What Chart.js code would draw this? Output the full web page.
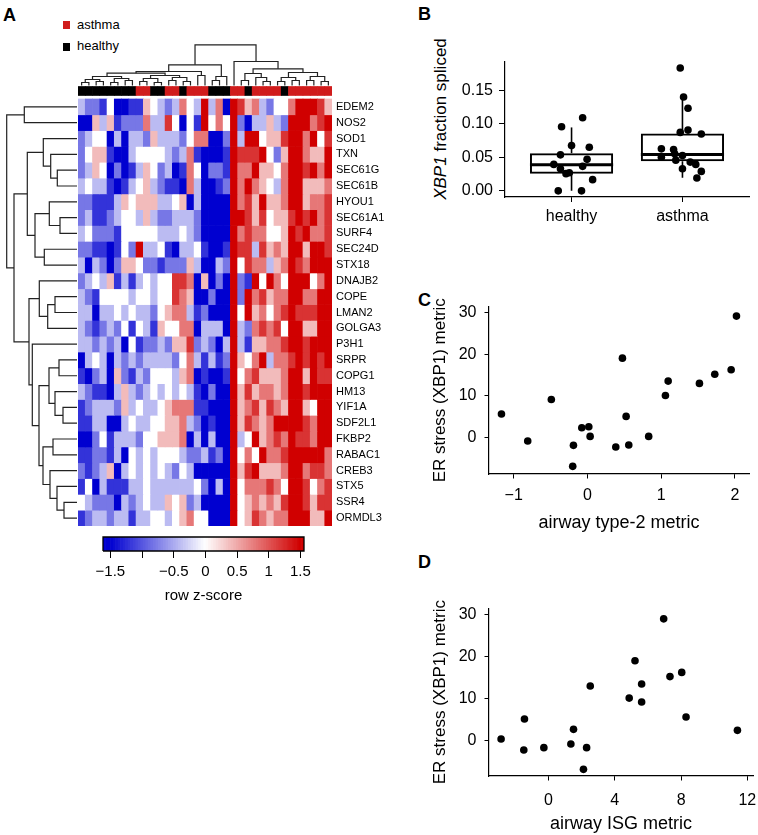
<!DOCTYPE html>
<html>
<head>
<meta charset="utf-8">
<script src="https://cdn.jsdelivr.net/npm/chart.js@4.4.1/dist/chart.umd.min.js"></script>
<style>
body { margin:0; background:#fff; width:758px; height:835px; position:relative; overflow:hidden;
  font-family:'Liberation Sans', Arial, Helvetica, sans-serif; color:#000; }
canvas, .t { position:absolute; }
.t { line-height:1; white-space:nowrap; }
.lab { font-weight:bold; font-size:18px; }
.sq { position:absolute; width:7px; height:8px; }
</style>
</head>
<body>
<div class="t lab" style="left:3px;top:6px">A</div>
<div class="t lab" style="left:418px;top:5px">B</div>
<div class="t lab" style="left:418px;top:291px">C</div>
<div class="t lab" style="left:418px;top:553px">D</div>

<div class="sq" style="left:63px;top:21px;background:#d01c1c"></div>
<div class="t" style="left:77px;top:18px;font-size:13px">asthma</div>
<div class="sq" style="left:63px;top:43px;background:#000"></div>
<div class="t" style="left:77px;top:39px;font-size:13px">healthy</div>

<div class="t" style="left:440px;top:119px;font-size:17px;transform:translate(-50%,-50%) rotate(-90deg)"><i>XBP1</i> fraction spliced</div>

<canvas id="colDendro" width="254" height="46" style="left:78px;top:40px"></canvas>
<canvas id="rowDendro" width="78" height="427" style="left:0px;top:99px"></canvas>
<canvas id="heat" width="316" height="446" style="left:78px;top:80px"></canvas>
<canvas id="key" width="235" height="80" style="left:90px;top:530px"></canvas>
<canvas id="box" width="333" height="182" style="left:425px;top:50px"></canvas>
<canvas id="scatC" width="333" height="265" style="left:425px;top:275px"></canvas>
<canvas id="scatD" width="333" height="257" style="left:425px;top:578px"></canvas>

<script>
// ---- panel A data ----
var genes = ['EDEM2','NOS2','SOD1','TXN','SEC61G','SEC61B','HYOU1','SEC61A1','SURF4','SEC24D','STX18',
  'DNAJB2','COPE','LMAN2','GOLGA3','P3H1','SRPR','COPG1','HM13','YIF1A','SDF2L1','FKBP2','RABAC1',
  'CREB3','STX5','SSR4','ORMDL3'];

// row z-score per sample, read as levels 0..8 (4 = 0, step 0.4)
var heatRows = [
  '32214001154323643836087563244688875',
  '00535122263374041846482033532888678',
  '23440303325333246600283884557886847',
  '24551003444432361000187778425886558',
  '23540201354230164022186685546887868',
  '34331013453211063001286865436885556',
  '22111354555334503000086758556885667',
  '23112344353223332000088757455787867',
  '34222144444333432000086766445878667',
  '22110142833410334100187737565885887',
  '30320255422122253003284766356876888',
  '23435131343447760502082184864888468',
  '32144443443447650020082867566886688',
  '33033434332456631200084856467877788',
  '32123241431544660333083267674885588',
  '33232304122325572320383155667887888',
  '03430323233332463131285468366787878',
  '10230521324443560100184675556885877',
  '32110353234343431020085756656887888',
  '12333253433456661100085675765885488',
  '11330034334455632010085765688887688',
  '00241333244555603030083485676877688',
  '11221304343444322312084648667888886',
  '21235034343432430000085785556886776',
  '14031113343333334203084666764887467',
  '43222032343354523000084565657887577',
  '12332331334434564400084576566888558'
];
var groups = 'hhhhhhhhaahhaahaaahhhaahaaaahaaaaaa';   // h = healthy, a = asthma

// dendrograms: [height, left, right], leaves are row / column indices
var colTree = [40.7,
  [20.7,
    [14,
      [12.3,
        [9, [6, [3, 0, 1], [4, 2, 3]], [7, [3, 4, 5], [5, 6, 7]]],
        [10, [7, [4, 8, 9], [3, 10, 11]], [8, [5, 12, 13], [4, 14, 15]]]
      ],
      [10, 16, 17]
    ],
    [9, [5, 18, 19], 20]
  ],
  [24, 21,
    [16.7,
      [12, [5, 22, 23], [8, 24, [4, 25, 26]]],
      [13, [8, [4, 27, 28], [5, 29, 30]], [9, [5, 31, 32], [4, 33, 34]]]
    ]
  ]
];
var rowTree = [70.3,
  [52.7, 0, 1],
  [63,
    [49.7,
      [33.7, 2, [26.3, 3, [19.7, 4, 5]]],
      [42, [27.7, 6, [17, 7, 8]], [32.7, 9, 10]]
    ],
    [48,
      [37.7, 11, [29.3, [22, 12, 13], 14]],
      [44.7, 15,
        [38,
          [28, [18, 16, 17], [22, 18, [14, 19, 20]]],
          [34, [24, 21, 22], [27, 23, [20, 24, [13, 25, 26]]]]
        ]
      ]
    ]
  ]
];

var keyMin = -1.617, keyMax = 1.557;
var keyTicks = [-1.5, -1, -0.5, 0, 0.5, 1, 1.5];

// ---- panel B data ----
var boxGroups = ['healthy', 'asthma'];
var boxLo  = [0.0,    0.0197];
var boxQ1  = [0.0256, 0.0443];
var boxMed = [0.0389, 0.0542];
var boxQ3  = [0.0562, 0.0857];
var boxHi  = [0.0946, 0.1399];
var healthyJit = [-0.09, 0.10, 0.00, 0.16, -0.10, -0.16, -0.10, -0.05, -0.02, 0.10, 0.14, 0.19, -0.12, 0.09];
var healthyVal = [0.0956, 0.109, 0.0675, 0.065, 0.0537, 0.0394, 0.033, 0.0256, 0.027, 0.0365, 0.047, 0.0167, 0.0, 0.0];
var asthmaJit = [-0.02, 0.01, 0.05, -0.02, 0.05, 0.17, -0.19, -0.08, -0.19, -0.07, 0.00, -0.06, 0.07, 0.12, 0.00, 0.17, 0.13];
var asthmaVal = [0.1833, 0.1399, 0.1232, 0.0872, 0.0906, 0.0847, 0.0626, 0.0616, 0.0502, 0.0552, 0.0527, 0.0458, 0.0429, 0.0394, 0.033, 0.029, 0.0192];
var bTicks = [0, 0.05, 0.1, 0.15];

// ---- panel C / D data ----
var type2 = [-1.166, -0.81, -0.49, -0.19, -0.20, -0.077, 0.018, 0.036, 0.384, 0.474, 0.524, 0.56, 0.83, 1.057, 1.094, 1.518, 1.726, 1.948, 2.02];
var xbpC  = [5.66, -0.8, 9.16, -1.83, -6.85, 2.39, 2.63, 0.32, -2.23, 19.04, 5.1, -1.75, 0.32, 10.1, 13.55, 13.0, 15.2, 16.25, 29.1];
var isg   = [-2.86, -1.45, -1.49, -0.28, 1.35, 1.51, 2.30, 2.11, 2.52, 4.87, 5.22, 5.62, 5.62, 6.95, 7.33, 8.04, 8.30, 11.4];
var xbpD  = [0.4, 5.14, -2.2, -1.66, -0.8, 2.69, -1.66, -6.8, 12.96, 10.1, 18.97, 13.44, 9.17, 28.9, 15.2, 16.2, 5.6, 2.45];
var cTicks = [-1, 0, 1, 2];
var dTicks = [0, 4, 8, 12];
var erTicks = [0, 10, 20, 30];

Chart.defaults.font.family = "'Liberation Sans', Arial, Helvetica, sans-serif";
Chart.defaults.color = '#000';
Chart.defaults.animation = false;
Chart.defaults.responsive = false;
Chart.defaults.events = [];
Chart.defaults.plugins.legend.display = false;
Chart.defaults.plugins.tooltip.enabled = false;

function zColor(z) {
  var t = Math.min(1, Math.abs(z) / 1.5);
  var w = Math.round(255 * (1 - t));
  var s = Math.round(255 - 47 * t);
  return z < 0 ? 'rgb(' + w + ',' + w + ',' + s + ')' : 'rgb(' + s + ',' + w + ',' + w + ')';
}
function minus(v) { return String(v).replace('-', '\u2212'); }
function tickList(arr) { return function (s) { s.ticks = arr.map(function (v) { return { value: v }; }); }; }
// fix an axis box size and drop the label overhang padding
function fixW(w) { return function (s) { s.width = w; s.paddingTop = s.paddingBottom = 0; }; }
function fixH(h) { return function (s) { s.height = h; s.paddingLeft = s.paddingRight = 0; }; }

// elbow segments of a dendrogram
function treeLines(node, out) {
  if (typeof node === 'number') return { p: node + 0.5, h: 0 };
  var a = treeLines(node[1], out), b = treeLines(node[2], out);
  out.push([[a.p, a.h], [a.p, node[0]], [b.p, node[0]], [b.p, b.h]]);
  return { p: (a.p + b.p) / 2, h: node[0] };
}

var colSegs = []; treeLines(colTree, colSegs);
new Chart(document.getElementById('colDendro'), {
  type: 'scatter',
  data: { datasets: colSegs.map(function (s) {
    return { data: s.map(function (q) { return { x: q[0], y: q[1] }; }), showLine: true, pointRadius: 0,
      borderColor: '#222', borderWidth: 1.2, clip: false };
  }) },
  options: { layout: { padding: 0 }, scales: {
    x: { display: false, min: 0, max: 35 },
    y: { display: false, min: -0.5, max: 45.5 } } }
});

var rowSegs = []; treeLines(rowTree, rowSegs);
new Chart(document.getElementById('rowDendro'), {
  type: 'scatter',
  data: { datasets: rowSegs.map(function (s) {
    return { data: s.map(function (q) { return { x: q[1], y: q[0] }; }), showLine: true, pointRadius: 0,
      borderColor: '#222', borderWidth: 1.2, clip: false };
  }) },
  options: { layout: { padding: 0 }, scales: {
    x: { display: false, min: -1, max: 77, reverse: true },
    y: { display: false, min: 0, max: 27, reverse: true } } }
});

// heatmap: one floating-bar dataset per gene row
var annoBand = [-0.79, -0.22];
var heatSets = heatRows.map(function (row, i) {
  var cells = row.split('');
  return {
    data: cells.map(function () { return [i, i + 1]; }),
    backgroundColor: cells.map(function (c) { return zColor((+c - 4) * 0.4); }),
    barPercentage: 1, categoryPercentage: 1, grouped: false, borderWidth: 0
  };
});
heatSets.push({
  data: groups.split('').map(function () { return annoBand; }),
  backgroundColor: groups.split('').map(function (g) { return g === 'a' ? '#d01c1c' : '#000'; }),
  barPercentage: 1, categoryPercentage: 1, grouped: false, borderWidth: 0
});
new Chart(document.getElementById('heat'), {
  type: 'bar',
  data: { labels: groups.split('').map(function (g, i) { return 'S' + (i + 1); }), datasets: heatSets },
  options: {
    layout: { padding: 0 },
    scales: {
      x: { display: false },
      y: { type: 'linear', position: 'right', min: -1.2, max: 27, reverse: true,
        grid: { display: false, drawTicks: false }, border: { display: false },
        afterBuildTicks: function (s) { s.ticks = genes.map(function (g, i) { return { value: i + 0.5 }; }); },
        afterFit: fixW(62),
        ticks: { autoSkip: false, padding: 4, font: { size: 11 },
          callback: function (v, i) { return genes[i]; } } }
    }
  }
});

// colour key
var keyBins = [];
for (var k = 0; k < 80; k++) keyBins.push(keyMin + (k + 0.5) * (keyMax - keyMin) / 80);
new Chart(document.getElementById('key'), {
  type: 'bar',
  data: { datasets: [
    { type: 'line', data: [{ x: keyMin, y: 0 }, { x: keyMin, y: 1 }, { x: keyMax, y: 1 }, { x: keyMax, y: 0 }, { x: keyMin, y: 0 }],
      borderColor: '#000', borderWidth: 1.3, pointRadius: 0, clip: false },
    { data: keyBins.map(function (b) { return { x: b, y: [0, 1] }; }), backgroundColor: keyBins.map(function (b) { return zColor(b); }),
      barPercentage: 1, categoryPercentage: 1, borderWidth: 0 }
  ] },
  options: {
    layout: { padding: { left: 13, right: 21, top: 7, bottom: 0 } },
    scales: {
      y: { display: false, min: 0, max: 1 },
      x: { type: 'linear', min: keyMin, max: keyMax, offset: false,
        afterBuildTicks: tickList(keyTicks),
        afterFit: fixH(59),
        grid: { drawOnChartArea: false, offset: false, tickLength: 7, color: '#000' }, border: { display: false },
        ticks: { padding: 5, font: { size: 15 }, autoSkip: false, maxRotation: 0,
          callback: function (v) { return v === -1 ? '' : minus(v); } },
        title: { display: true, text: 'row z-score', font: { size: 15 }, padding: { top: 2, bottom: 5 } } }
    }
  }
});

// panel B: box plot built from floating bars + lines
var pts = healthyJit.map(function (j, i) { return { x: 1 + j, y: healthyVal[i] }; })
  .concat(asthmaJit.map(function (j, i) { return { x: 2 + j, y: asthmaVal[i] }; }));
var boxSets = [
  { type: 'scatter', data: pts, pointRadius: 3.8, pointBackgroundColor: '#000', pointBorderWidth: 0 }
];
boxGroups.forEach(function (g, i) {
  boxSets.push({ type: 'line', data: [{ x: i + 1 - 0.375, y: boxMed[i] }, { x: i + 1 + 0.375, y: boxMed[i] }],
    borderColor: '#000', borderWidth: 3, pointRadius: 0 });
});
boxSets.push({ type: 'bar', data: boxGroups.map(function (g, i) { return { x: i + 1, y: [boxQ1[i], boxQ3[i]] }; }),
  backgroundColor: 'rgba(255,255,255,0)', borderColor: '#000', borderWidth: 2, borderSkipped: false,
  barPercentage: 0.75, categoryPercentage: 1 });
boxGroups.forEach(function (g, i) {
  boxSets.push({ type: 'line', data: [{ x: i + 1, y: boxQ3[i] }, { x: i + 1, y: boxHi[i] }],
    borderColor: '#000', borderWidth: 1.6, pointRadius: 0 });
  boxSets.push({ type: 'line', data: [{ x: i + 1, y: boxQ1[i] }, { x: i + 1, y: boxLo[i] }],
    borderColor: '#000', borderWidth: 1.6, pointRadius: 0 });
});
new Chart(document.getElementById('box'), {
  type: 'bar',
  data: { datasets: boxSets },
  options: {
    layout: { padding: { left: 0, right: 9, top: 12, bottom: 0 } },
    scales: {
      x: { type: 'linear', min: 0.4, max: 2.6, offset: false,
        afterBuildTicks: tickList([1, 2]),
        afterFit: fixH(35),
        grid: { drawOnChartArea: false, offset: false, tickLength: 5, color: '#000' },
        border: { color: '#000', width: 1.2 },
        ticks: { padding: 5, font: { size: 16 }, callback: function (v, i) { return boxGroups[i]; } } },
      y: { min: -0.0092, max: 0.1922,
        afterBuildTicks: tickList(bTicks),
        afterFit: fixW(80),
        grid: { drawOnChartArea: false, tickLength: 6, color: '#000' },
        border: { color: '#000', width: 1.2 },
        ticks: { padding: 6, font: { size: 16 }, callback: function (v) { return v.toFixed(2); } } }
    }
  }
});

// panels C and D: scatter plots
function scatter(id, xs, ys, xTicks, xMin, xMax, yMin, yMax, xTitle, pad, xH, tickPad, titlePad) {
  return new Chart(document.getElementById(id), {
    type: 'scatter',
    data: { datasets: [{ data: xs.map(function (x, i) { return { x: x, y: ys[i] }; }),
      pointRadius: 3.8, pointBackgroundColor: '#000', pointBorderWidth: 0 }] },
    options: {
      layout: { padding: pad },
      scales: {
        x: { min: xMin, max: xMax,
          afterBuildTicks: tickList(xTicks),
          afterFit: fixH(xH),
          grid: { drawOnChartArea: false, tickLength: 4.5, color: '#000' },
          border: { color: '#000', width: 1.2 },
          ticks: { padding: tickPad, font: { size: 16 }, callback: function (v) { return minus(v); } },
          title: { display: true, text: xTitle, font: { size: 18 }, padding: { top: 0, bottom: titlePad } } },
        y: { min: yMin, max: yMax,
          afterBuildTicks: tickList(erTicks),
          afterFit: fixW(64),
          grid: { drawOnChartArea: false, tickLength: 4.5, color: '#000' },
          border: { color: '#000', width: 1.2 },
          ticks: { padding: 8, font: { size: 16 }, callback: function (v) { return minus(v); } },
          title: { display: true, text: 'ER stress (XBP1) metric', font: { size: 17 }, padding: { top: 5, bottom: 0 } } }
      }
    }
  });
}

scatter('scatC', type2, xbpC, cTicks, -1.335, 2.19, -8.68, 31.4, 'airway type-2 metric',
  { left: 0, right: 9, top: 31.5, bottom: 0 }, 66, 7.8, 6.5);
scatter('scatD', isg, xbpD, dTicks, -3.59, 12.34, -8.38, 31.4, 'airway ISG metric',
  { left: 0, right: 5, top: 30.3, bottom: 0 }, 59, 10, 0);
</script>
</body>
</html>
